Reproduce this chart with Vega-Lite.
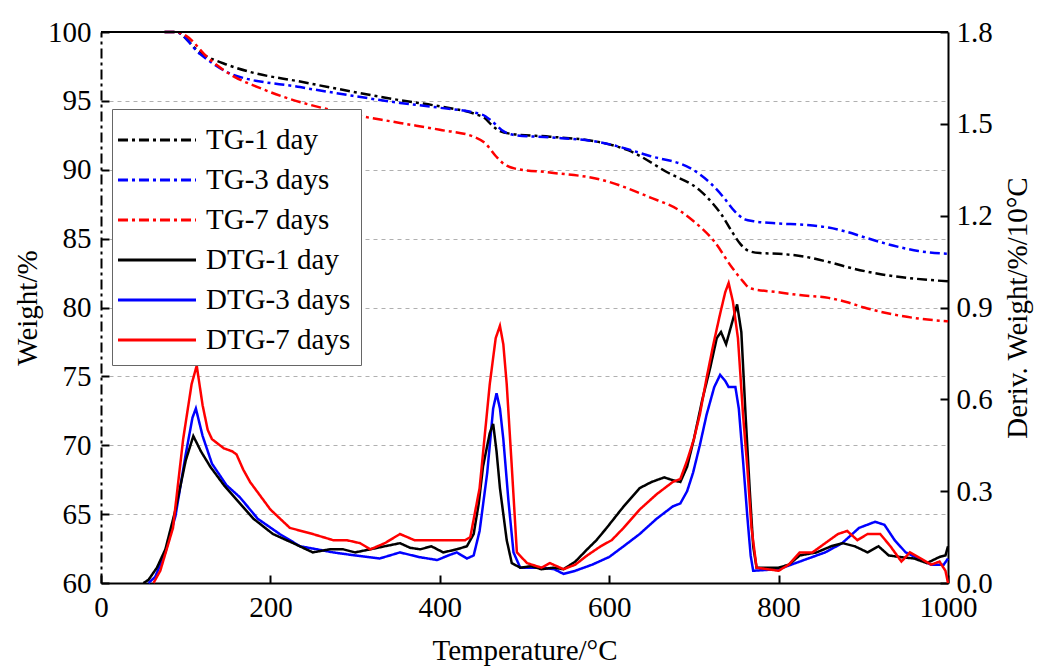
{
"$schema": "https://vega.github.io/schema/vega-lite/v6.json",
"width": 847, "height": 551,
"autosize": "none",
"padding": {"left": 101, "top": 32, "right": 95, "bottom": 85},
"background": "white",
"datasets": {
"tg": [
{"s":"TG-1 day","T":75,"W":100},{"s":"TG-1 day","T":88,"W":100},{"s":"TG-1 day","T":117,"W":98.5},{"s":"TG-1 day","T":150,"W":97.6},{"s":"TG-1 day","T":176,"W":97.1},{"s":"TG-1 day","T":235,"W":96.4},{"s":"TG-1 day","T":294,"W":95.7},{"s":"TG-1 day","T":353,"W":95.05},{"s":"TG-1 day","T":400,"W":94.6},{"s":"TG-1 day","T":444,"W":94.0},{"s":"TG-1 day","T":452,"W":93.8},{"s":"TG-1 day","T":462,"W":93.2},{"s":"TG-1 day","T":471,"W":92.8},{"s":"TG-1 day","T":485,"W":92.6},{"s":"TG-1 day","T":530,"W":92.4},{"s":"TG-1 day","T":589,"W":92.0},{"s":"TG-1 day","T":623,"W":91.4},{"s":"TG-1 day","T":669,"W":89.8},{"s":"TG-1 day","T":707,"W":88.5},{"s":"TG-1 day","T":723,"W":87.5},{"s":"TG-1 day","T":732,"W":86.8},{"s":"TG-1 day","T":745,"W":85.5},{"s":"TG-1 day","T":755,"W":84.6},{"s":"TG-1 day","T":765,"W":84.1},{"s":"TG-1 day","T":778,"W":83.95},{"s":"TG-1 day","T":800,"W":83.9},{"s":"TG-1 day","T":830,"W":83.7},{"s":"TG-1 day","T":859,"W":83.3},{"s":"TG-1 day","T":890,"W":82.8},{"s":"TG-1 day","T":922,"W":82.4},{"s":"TG-1 day","T":960,"W":82.1},{"s":"TG-1 day","T":1000,"W":81.9},
{"s":"TG-3 days","T":75,"W":100},{"s":"TG-3 days","T":88,"W":100},{"s":"TG-3 days","T":117,"W":98.4},{"s":"TG-3 days","T":156,"W":96.9},{"s":"TG-3 days","T":235,"W":96.0},{"s":"TG-3 days","T":294,"W":95.4},{"s":"TG-3 days","T":353,"W":94.85},{"s":"TG-3 days","T":400,"W":94.5},{"s":"TG-3 days","T":450,"W":94.0},{"s":"TG-3 days","T":462,"W":93.5},{"s":"TG-3 days","T":475,"W":92.8},{"s":"TG-3 days","T":490,"W":92.5},{"s":"TG-3 days","T":530,"W":92.35},{"s":"TG-3 days","T":589,"W":92.0},{"s":"TG-3 days","T":648,"W":91.0},{"s":"TG-3 days","T":699,"W":90.0},{"s":"TG-3 days","T":720,"W":89.0},{"s":"TG-3 days","T":735,"W":88.0},{"s":"TG-3 days","T":748,"W":87.0},{"s":"TG-3 days","T":760,"W":86.4},{"s":"TG-3 days","T":772,"W":86.25},{"s":"TG-3 days","T":800,"W":86.1},{"s":"TG-3 days","T":830,"W":86.0},{"s":"TG-3 days","T":859,"W":85.8},{"s":"TG-3 days","T":880,"W":85.5},{"s":"TG-3 days","T":901,"W":85.1},{"s":"TG-3 days","T":935,"W":84.5},{"s":"TG-3 days","T":965,"W":84.1},{"s":"TG-3 days","T":1000,"W":83.9},
{"s":"TG-7 days","T":75,"W":100},{"s":"TG-7 days","T":88,"W":100},{"s":"TG-7 days","T":101,"W":99.7},{"s":"TG-7 days","T":125,"W":98.2},{"s":"TG-7 days","T":156,"W":96.8},{"s":"TG-7 days","T":185,"W":96.0},{"s":"TG-7 days","T":215,"W":95.3},{"s":"TG-7 days","T":274,"W":94.3},{"s":"TG-7 days","T":353,"W":93.4},{"s":"TG-7 days","T":400,"W":92.9},{"s":"TG-7 days","T":440,"W":92.4},{"s":"TG-7 days","T":454,"W":91.9},{"s":"TG-7 days","T":466,"W":91.0},{"s":"TG-7 days","T":476,"W":90.4},{"s":"TG-7 days","T":488,"W":90.1},{"s":"TG-7 days","T":530,"W":89.8},{"s":"TG-7 days","T":589,"W":89.3},{"s":"TG-7 days","T":648,"W":88.0},{"s":"TG-7 days","T":684,"W":87.0},{"s":"TG-7 days","T":699,"W":86.3},{"s":"TG-7 days","T":724,"W":84.8},{"s":"TG-7 days","T":745,"W":82.9},{"s":"TG-7 days","T":758,"W":81.9},{"s":"TG-7 days","T":766,"W":81.4},{"s":"TG-7 days","T":800,"W":81.1},{"s":"TG-7 days","T":825,"W":80.9},{"s":"TG-7 days","T":859,"W":80.7},{"s":"TG-7 days","T":880,"W":80.4},{"s":"TG-7 days","T":901,"W":80.0},{"s":"TG-7 days","T":935,"W":79.5},{"s":"TG-7 days","T":965,"W":79.2},{"s":"TG-7 days","T":1000,"W":79.0}
],
"dtg": [
{"s":"DTG-3 days","T":56,"D":0},{"s":"DTG-3 days","T":64,"D":0.02},{"s":"DTG-3 days","T":76,"D":0.10},{"s":"DTG-3 days","T":88,"D":0.22},{"s":"DTG-3 days","T":100,"D":0.42},{"s":"DTG-3 days","T":108,"D":0.54},{"s":"DTG-3 days","T":112,"D":0.57},{"s":"DTG-3 days","T":120,"D":0.48},{"s":"DTG-3 days","T":131,"D":0.39},{"s":"DTG-3 days","T":148,"D":0.32},{"s":"DTG-3 days","T":164,"D":0.28},{"s":"DTG-3 days","T":185,"D":0.21},{"s":"DTG-3 days","T":211,"D":0.16},{"s":"DTG-3 days","T":235,"D":0.12},{"s":"DTG-3 days","T":255,"D":0.11},{"s":"DTG-3 days","T":274,"D":0.10},{"s":"DTG-3 days","T":300,"D":0.09},{"s":"DTG-3 days","T":329,"D":0.08},{"s":"DTG-3 days","T":353,"D":0.10},{"s":"DTG-3 days","T":375,"D":0.085},{"s":"DTG-3 days","T":397,"D":0.075},{"s":"DTG-3 days","T":410,"D":0.09},{"s":"DTG-3 days","T":420,"D":0.10},{"s":"DTG-3 days","T":432,"D":0.08},{"s":"DTG-3 days","T":440,"D":0.09},{"s":"DTG-3 days","T":447,"D":0.17},{"s":"DTG-3 days","T":456,"D":0.36},{"s":"DTG-3 days","T":463,"D":0.57},{"s":"DTG-3 days","T":467,"D":0.62},{"s":"DTG-3 days","T":471,"D":0.57},{"s":"DTG-3 days","T":475,"D":0.47},{"s":"DTG-3 days","T":481,"D":0.27},{"s":"DTG-3 days","T":487,"D":0.10},{"s":"DTG-3 days","T":495,"D":0.05},{"s":"DTG-3 days","T":520,"D":0.05},{"s":"DTG-3 days","T":535,"D":0.045},{"s":"DTG-3 days","T":546,"D":0.03},{"s":"DTG-3 days","T":560,"D":0.04},{"s":"DTG-3 days","T":580,"D":0.06},{"s":"DTG-3 days","T":600,"D":0.085},{"s":"DTG-3 days","T":617,"D":0.12},{"s":"DTG-3 days","T":636,"D":0.16},{"s":"DTG-3 days","T":656,"D":0.21},{"s":"DTG-3 days","T":675,"D":0.25},{"s":"DTG-3 days","T":684,"D":0.26},{"s":"DTG-3 days","T":692,"D":0.30},{"s":"DTG-3 days","T":699,"D":0.36},{"s":"DTG-3 days","T":707,"D":0.45},{"s":"DTG-3 days","T":715,"D":0.55},{"s":"DTG-3 days","T":724,"D":0.64},{"s":"DTG-3 days","T":731,"D":0.68},{"s":"DTG-3 days","T":737,"D":0.66},{"s":"DTG-3 days","T":741,"D":0.64},{"s":"DTG-3 days","T":749,"D":0.64},{"s":"DTG-3 days","T":753,"D":0.57},{"s":"DTG-3 days","T":758,"D":0.40},{"s":"DTG-3 days","T":763,"D":0.22},{"s":"DTG-3 days","T":767,"D":0.09},{"s":"DTG-3 days","T":770,"D":0.04},{"s":"DTG-3 days","T":800,"D":0.045},{"s":"DTG-3 days","T":815,"D":0.06},{"s":"DTG-3 days","T":835,"D":0.08},{"s":"DTG-3 days","T":855,"D":0.10},{"s":"DTG-3 days","T":875,"D":0.13},{"s":"DTG-3 days","T":895,"D":0.18},{"s":"DTG-3 days","T":914,"D":0.20},{"s":"DTG-3 days","T":925,"D":0.19},{"s":"DTG-3 days","T":937,"D":0.14},{"s":"DTG-3 days","T":950,"D":0.10},{"s":"DTG-3 days","T":965,"D":0.08},{"s":"DTG-3 days","T":980,"D":0.06},{"s":"DTG-3 days","T":995,"D":0.06},{"s":"DTG-3 days","T":1000,"D":0.08},
{"s":"DTG-1 day","T":50,"D":0},{"s":"DTG-1 day","T":56,"D":0.01},{"s":"DTG-1 day","T":66,"D":0.05},{"s":"DTG-1 day","T":76,"D":0.11},{"s":"DTG-1 day","T":88,"D":0.24},{"s":"DTG-1 day","T":100,"D":0.40},{"s":"DTG-1 day","T":109,"D":0.48},{"s":"DTG-1 day","T":118,"D":0.43},{"s":"DTG-1 day","T":129,"D":0.38},{"s":"DTG-1 day","T":145,"D":0.32},{"s":"DTG-1 day","T":164,"D":0.26},{"s":"DTG-1 day","T":180,"D":0.21},{"s":"DTG-1 day","T":203,"D":0.16},{"s":"DTG-1 day","T":227,"D":0.13},{"s":"DTG-1 day","T":250,"D":0.10},{"s":"DTG-1 day","T":270,"D":0.11},{"s":"DTG-1 day","T":286,"D":0.11},{"s":"DTG-1 day","T":300,"D":0.10},{"s":"DTG-1 day","T":318,"D":0.11},{"s":"DTG-1 day","T":335,"D":0.12},{"s":"DTG-1 day","T":353,"D":0.13},{"s":"DTG-1 day","T":365,"D":0.115},{"s":"DTG-1 day","T":377,"D":0.11},{"s":"DTG-1 day","T":390,"D":0.12},{"s":"DTG-1 day","T":404,"D":0.10},{"s":"DTG-1 day","T":420,"D":0.11},{"s":"DTG-1 day","T":432,"D":0.12},{"s":"DTG-1 day","T":440,"D":0.16},{"s":"DTG-1 day","T":446,"D":0.26},{"s":"DTG-1 day","T":451,"D":0.38},{"s":"DTG-1 day","T":459,"D":0.49},{"s":"DTG-1 day","T":463,"D":0.52},{"s":"DTG-1 day","T":467,"D":0.43},{"s":"DTG-1 day","T":471,"D":0.31},{"s":"DTG-1 day","T":479,"D":0.14},{"s":"DTG-1 day","T":485,"D":0.065},{"s":"DTG-1 day","T":495,"D":0.05},{"s":"DTG-1 day","T":508,"D":0.055},{"s":"DTG-1 day","T":520,"D":0.045},{"s":"DTG-1 day","T":534,"D":0.05},{"s":"DTG-1 day","T":546,"D":0.045},{"s":"DTG-1 day","T":560,"D":0.07},{"s":"DTG-1 day","T":574,"D":0.11},{"s":"DTG-1 day","T":585,"D":0.14},{"s":"DTG-1 day","T":597,"D":0.18},{"s":"DTG-1 day","T":617,"D":0.25},{"s":"DTG-1 day","T":636,"D":0.31},{"s":"DTG-1 day","T":650,"D":0.33},{"s":"DTG-1 day","T":665,"D":0.345},{"s":"DTG-1 day","T":676,"D":0.335},{"s":"DTG-1 day","T":684,"D":0.33},{"s":"DTG-1 day","T":692,"D":0.38},{"s":"DTG-1 day","T":700,"D":0.47},{"s":"DTG-1 day","T":710,"D":0.60},{"s":"DTG-1 day","T":719,"D":0.70},{"s":"DTG-1 day","T":727,"D":0.80},{"s":"DTG-1 day","T":732,"D":0.82},{"s":"DTG-1 day","T":738,"D":0.78},{"s":"DTG-1 day","T":744,"D":0.84},{"s":"DTG-1 day","T":751,"D":0.91},{"s":"DTG-1 day","T":756,"D":0.82},{"s":"DTG-1 day","T":761,"D":0.55},{"s":"DTG-1 day","T":766,"D":0.30},{"s":"DTG-1 day","T":770,"D":0.12},{"s":"DTG-1 day","T":774,"D":0.05},{"s":"DTG-1 day","T":790,"D":0.05},{"s":"DTG-1 day","T":800,"D":0.05},{"s":"DTG-1 day","T":812,"D":0.06},{"s":"DTG-1 day","T":825,"D":0.09},{"s":"DTG-1 day","T":845,"D":0.10},{"s":"DTG-1 day","T":862,"D":0.12},{"s":"DTG-1 day","T":876,"D":0.13},{"s":"DTG-1 day","T":890,"D":0.12},{"s":"DTG-1 day","T":905,"D":0.10},{"s":"DTG-1 day","T":918,"D":0.12},{"s":"DTG-1 day","T":930,"D":0.09},{"s":"DTG-1 day","T":943,"D":0.085},{"s":"DTG-1 day","T":960,"D":0.08},{"s":"DTG-1 day","T":975,"D":0.065},{"s":"DTG-1 day","T":990,"D":0.085},{"s":"DTG-1 day","T":997,"D":0.09},{"s":"DTG-1 day","T":1000,"D":0.12},
{"s":"DTG-7 days","T":62,"D":0},{"s":"DTG-7 days","T":70,"D":0.04},{"s":"DTG-7 days","T":85,"D":0.18},{"s":"DTG-7 days","T":97,"D":0.47},{"s":"DTG-7 days","T":107,"D":0.65},{"s":"DTG-7 days","T":113,"D":0.71},{"s":"DTG-7 days","T":120,"D":0.58},{"s":"DTG-7 days","T":126,"D":0.50},{"s":"DTG-7 days","T":131,"D":0.47},{"s":"DTG-7 days","T":145,"D":0.44},{"s":"DTG-7 days","T":155,"D":0.43},{"s":"DTG-7 days","T":160,"D":0.42},{"s":"DTG-7 days","T":168,"D":0.37},{"s":"DTG-7 days","T":176,"D":0.33},{"s":"DTG-7 days","T":200,"D":0.24},{"s":"DTG-7 days","T":223,"D":0.18},{"s":"DTG-7 days","T":250,"D":0.16},{"s":"DTG-7 days","T":274,"D":0.14},{"s":"DTG-7 days","T":290,"D":0.14},{"s":"DTG-7 days","T":306,"D":0.13},{"s":"DTG-7 days","T":318,"D":0.11},{"s":"DTG-7 days","T":335,"D":0.13},{"s":"DTG-7 days","T":353,"D":0.16},{"s":"DTG-7 days","T":370,"D":0.14},{"s":"DTG-7 days","T":385,"D":0.14},{"s":"DTG-7 days","T":410,"D":0.14},{"s":"DTG-7 days","T":430,"D":0.14},{"s":"DTG-7 days","T":436,"D":0.15},{"s":"DTG-7 days","T":447,"D":0.31},{"s":"DTG-7 days","T":453,"D":0.48},{"s":"DTG-7 days","T":459,"D":0.65},{"s":"DTG-7 days","T":466,"D":0.80},{"s":"DTG-7 days","T":471,"D":0.84},{"s":"DTG-7 days","T":475,"D":0.78},{"s":"DTG-7 days","T":479,"D":0.65},{"s":"DTG-7 days","T":485,"D":0.38},{"s":"DTG-7 days","T":491,"D":0.10},{"s":"DTG-7 days","T":503,"D":0.065},{"s":"DTG-7 days","T":520,"D":0.05},{"s":"DTG-7 days","T":530,"D":0.065},{"s":"DTG-7 days","T":546,"D":0.045},{"s":"DTG-7 days","T":560,"D":0.06},{"s":"DTG-7 days","T":574,"D":0.09},{"s":"DTG-7 days","T":590,"D":0.12},{"s":"DTG-7 days","T":603,"D":0.14},{"s":"DTG-7 days","T":617,"D":0.18},{"s":"DTG-7 days","T":636,"D":0.24},{"s":"DTG-7 days","T":656,"D":0.29},{"s":"DTG-7 days","T":675,"D":0.33},{"s":"DTG-7 days","T":684,"D":0.34},{"s":"DTG-7 days","T":692,"D":0.40},{"s":"DTG-7 days","T":700,"D":0.47},{"s":"DTG-7 days","T":707,"D":0.55},{"s":"DTG-7 days","T":715,"D":0.67},{"s":"DTG-7 days","T":723,"D":0.78},{"s":"DTG-7 days","T":731,"D":0.88},{"s":"DTG-7 days","T":737,"D":0.95},{"s":"DTG-7 days","T":741,"D":0.98},{"s":"DTG-7 days","T":746,"D":0.92},{"s":"DTG-7 days","T":752,"D":0.80},{"s":"DTG-7 days","T":758,"D":0.55},{"s":"DTG-7 days","T":763,"D":0.38},{"s":"DTG-7 days","T":768,"D":0.18},{"s":"DTG-7 days","T":774,"D":0.05},{"s":"DTG-7 days","T":800,"D":0.04},{"s":"DTG-7 days","T":812,"D":0.06},{"s":"DTG-7 days","T":825,"D":0.10},{"s":"DTG-7 days","T":840,"D":0.10},{"s":"DTG-7 days","T":855,"D":0.13},{"s":"DTG-7 days","T":870,"D":0.16},{"s":"DTG-7 days","T":881,"D":0.17},{"s":"DTG-7 days","T":893,"D":0.14},{"s":"DTG-7 days","T":905,"D":0.16},{"s":"DTG-7 days","T":920,"D":0.16},{"s":"DTG-7 days","T":932,"D":0.12},{"s":"DTG-7 days","T":945,"D":0.07},{"s":"DTG-7 days","T":955,"D":0.10},{"s":"DTG-7 days","T":968,"D":0.08},{"s":"DTG-7 days","T":980,"D":0.06},{"s":"DTG-7 days","T":990,"D":0.07},{"s":"DTG-7 days","T":997,"D":0.04},{"s":"DTG-7 days","T":1000,"D":0.0}
]
},
"layer": [
{
"data": {"name": "tg"},
"mark": {"type": "line", "strokeWidth": 2.5, "interpolate": "monotone"},
"encoding": {
"x": {"field": "T", "type": "quantitative", "scale": {"domain": [0, 1000], "nice": false},
"axis": {"values": [0,200,400,600,800,1000], "format": "d", "title": "Temperature/°C", "grid": false, "titlePadding": 14}},
"y": {"field": "W", "type": "quantitative", "scale": {"domain": [60, 100], "nice": false, "zero": false},
"axis": {"orient": "left", "values": [60,65,70,75,80,85,90,95,100], "title": "Weight/%", "grid": true, "gridDash": [4,4], "gridColor": "#b0b0b0", "gridWidth": 1, "domainDash": [10,4,3,4], "titlePadding": 5}},
"color": {"field": "s", "type": "nominal", "title": null,
"scale": {"domain": ["TG-1 day","TG-3 days","TG-7 days","DTG-1 day","DTG-3 days","DTG-7 days"], "range": ["#000000","#0000ff","#ff0000","#000000","#0000ff","#ff0000"]}},
"strokeDash": {"field": "s", "type": "nominal", "title": null,
"scale": {"domain": ["TG-1 day","TG-3 days","TG-7 days","DTG-1 day","DTG-3 days","DTG-7 days"], "range": [[10,4,3,4],[10,4,3,4],[10,4,3,4],[1,0],[1,0],[1,0]]}}
}
},
{
"data": {"name": "dtg"},
"mark": {"type": "line", "strokeWidth": 2.5},
"encoding": {
"x": {"field": "T", "type": "quantitative", "scale": {"domain": [0, 1000], "nice": false},
"axis": {"values": [0,200,400,600,800,1000], "format": "d", "title": "Temperature/°C", "grid": false, "titlePadding": 14}},
"y": {"field": "D", "type": "quantitative", "scale": {"domain": [0, 1.8], "nice": false},
"axis": {"orient": "right", "values": [0,0.3,0.6,0.9,1.2,1.5,1.8], "format": ".1f", "title": "Deriv. Weight/%/10°C", "titleAngle": 270, "grid": false, "titlePadding": 40, "labelPadding": 16}},
"color": {"field": "s", "type": "nominal", "title": null,
"scale": {"domain": ["TG-1 day","TG-3 days","TG-7 days","DTG-1 day","DTG-3 days","DTG-7 days"], "range": ["#000000","#0000ff","#ff0000","#000000","#0000ff","#ff0000"]}},
"strokeDash": {"field": "s", "type": "nominal", "title": null,
"scale": {"domain": ["TG-1 day","TG-3 days","TG-7 days","DTG-1 day","DTG-3 days","DTG-7 days"], "range": [[10,4,3,4],[10,4,3,4],[10,4,3,4],[1,0],[1,0],[1,0]]}}
}
},
{
"data": {"values": [{"v": 100}]},
"mark": {"type": "rule", "color": "black", "strokeWidth": 2},
"encoding": {"y": {"field": "v", "type": "quantitative", "scale": {"domain": [60, 100], "nice": false, "zero": false}, "axis": null}}
}
],
"resolve": {"scale": {"y": "independent"}, "axis": {"y": "independent"}},
"config": {
"font": "Liberation Serif",
"view": {"stroke": null},
"axis": {"labelFont": "Liberation Serif", "labelFontSize": 29, "labelColor": "black", "titleFont": "Liberation Serif", "titleFontSize": 29, "titleFontWeight": "normal", "titleColor": "black", "domainColor": "black", "domainWidth": 2, "tickColor": "black", "tickWidth": 2, "tickSize": -8, "labelPadding": 18, "labelFlush": false, "labelOverlap": false},
"legend": {"orient": "none", "legendX": 11, "legendY": 77, "labelFont": "Liberation Serif", "labelFontSize": 29, "labelColor": "black", "labelLimit": 400, "symbolType": "M-2,0H2", "symbolSize": 1521, "symbolStrokeWidth": 3, "strokeColor": "#666666", "fillColor": "white", "padding": 10, "rowPadding": 4, "labelOffset": 28, "symbolOffset": 14}
}
}
